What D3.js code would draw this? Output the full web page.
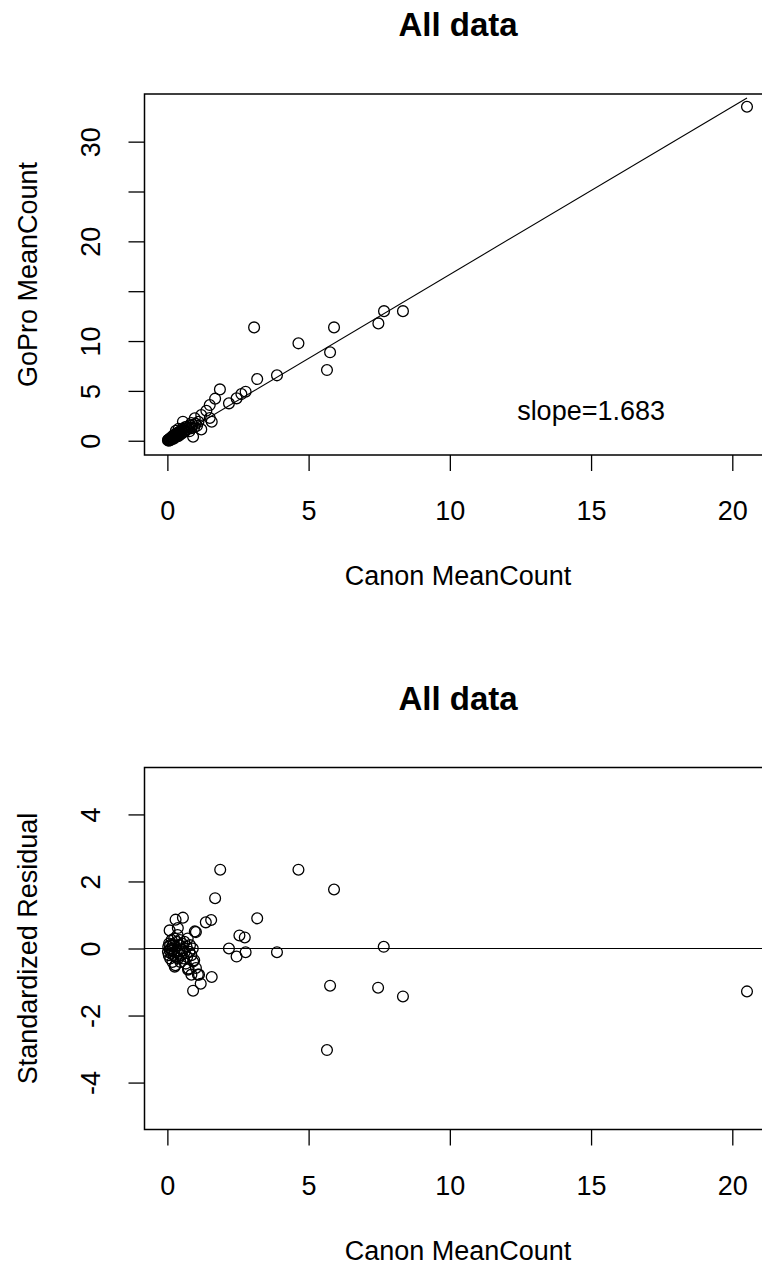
<!DOCTYPE html>
<html>
<head>
<meta charset="utf-8">
<script src="https://cdn.jsdelivr.net/npm/d3@7/dist/d3.min.js"></script>
<style>
  html, body { margin: 0; padding: 0; background: #fff; }
  svg { display: block; }
  text { font-family: "Liberation Sans", Arial, sans-serif; fill: #000; }
</style>
</head>
<body>
<svg id="chart" width="762" height="1266"></svg>
<script>
// ---------- data ----------
const chartTitle = "All data";
const xLabel = "Canon MeanCount";
const yLabelTop = "GoPro MeanCount";
const yLabelBottom = "Standardized Residual";
const xTicks = [0, 5, 10, 15, 20];
const yTicksTop = [0, 5, 10, 15, 20, 25, 30];
const yTickLabelsTop = ["0", "5", "10", "", "20", "", "30"];
const yTicksBottom = [-4, -2, 0, 2, 4];
const slope = 1.683;
const intercept = -0.15;
const slopeLabel = "slope=1.683";

// [Canon MeanCount, GoPro MeanCount]
const scatterPairs = [
  [20.52, 33.5], [8.34, 13.0], [7.67, 13.0], [7.47, 11.77], [5.90, 11.37],
  [5.76, 8.87], [5.65, 7.09], [4.64, 9.77], [3.07, 11.37], [3.88, 6.56],
  [3.18, 6.19], [2.77, 4.92], [2.62, 4.68], [2.45, 4.25], [2.18, 3.75],
  [1.86, 5.15], [1.69, 4.22], [1.57, 1.91], [1.38, 3.01], [1.50, 3.58],
  [1.20, 2.58], [1.50, 2.28], [0.97, 2.25], [1.20, 1.14], [0.91, 0.40],
  [0.55, 1.91], [0.85, 1.78], [1.10, 1.90], [1.05, 1.50], [1.00, 1.70],
  [0.02, 0.05], [0.03, 0.10], [0.05, 0.00], [0.06, 0.15], [0.08, 0.10],
  [0.10, 0.20], [0.10, 0.05], [0.12, 0.30], [0.14, 0.15], [0.15, 0.35],
  [0.17, 0.25], [0.18, 0.40], [0.20, 0.30], [0.20, 0.50], [0.22, 0.20],
  [0.24, 0.45], [0.25, 0.60], [0.27, 0.35], [0.28, 0.55], [0.30, 0.70],
  [0.30, 0.40], [0.32, 0.50], [0.35, 0.65], [0.36, 0.80], [0.38, 0.45],
  [0.40, 0.70], [0.42, 0.90], [0.44, 0.60], [0.46, 0.85], [0.48, 1.00],
  [0.50, 0.70], [0.52, 1.10], [0.55, 0.85], [0.58, 1.20], [0.60, 0.90],
  [0.62, 1.35], [0.65, 1.00], [0.68, 1.40], [0.70, 1.15], [0.75, 1.30],
  [0.78, 0.95], [0.80, 1.55], [0.85, 1.25], [0.90, 1.60], [0.95, 1.35],
  [0.40, 1.20], [0.30, 1.00]
];

// [Canon MeanCount, Standardized Residual]
const residualPairs = [
  [20.52, -1.28], [8.34, -1.43], [7.66, 0.05], [7.46, -1.17], [5.90, 1.76],
  [5.76, -1.11], [5.65, -3.03], [4.64, 2.35], [3.88, -0.11], [3.18, 0.90],
  [2.77, -0.11], [2.74, 0.33], [2.55, 0.39], [2.45, -0.24], [2.18, 0.00],
  [1.87, 2.35], [1.69, 1.50], [1.55, 0.85], [1.36, 0.78], [1.57, -0.85],
  [1.18, -1.05], [1.12, -0.78], [0.91, -1.26], [0.85, -0.78], [0.91, -0.39],
  [1.01, 0.49], [0.29, 0.86], [0.55, 0.92], [0.08, 0.54], [0.97, 0.51],
  [1.01, -0.58], [0.73, -0.63], [1.08, -0.78], [0.37, 0.61],
  [0.02, -0.10], [0.03, 0.05], [0.05, -0.20], [0.06, 0.15], [0.08, -0.05],
  [0.10, 0.10], [0.10, -0.30], [0.12, 0.00], [0.14, -0.15], [0.15, 0.25],
  [0.17, -0.05], [0.18, -0.40], [0.20, 0.10], [0.22, -0.20], [0.24, 0.30],
  [0.25, -0.10], [0.27, 0.05], [0.28, -0.50], [0.30, -0.25], [0.32, 0.20],
  [0.34, -0.05], [0.36, 0.40], [0.38, -0.30], [0.40, 0.10], [0.42, -0.15],
  [0.44, 0.25], [0.46, -0.40], [0.48, 0.00], [0.50, -0.20], [0.52, 0.15],
  [0.55, -0.05], [0.58, -0.30], [0.60, 0.20], [0.62, -0.10], [0.65, -0.45],
  [0.68, 0.05], [0.70, -0.25], [0.72, 0.30], [0.75, -0.60], [0.78, -0.10],
  [0.80, 0.10], [0.85, -0.20], [0.90, 0.00], [0.95, -0.35], [0.26, -0.54]
];

// ---------- layout ----------
const svg = d3.select("#chart");
svg.append("rect").attr("width", 762).attr("height", 1266).attr("fill", "#fff");

const FONT = 27;
const box = { left: 144.5, right: 771 };
const xDomain = [-0.81, 21.37];
const tickLen = 16;

function panel(opts) {
  const { top, bottom, yDomain, yTicks, yTickLabels, yLabel, id } = opts;
  const g = svg.append("g");
  const x = d3.scaleLinear().domain(xDomain).range([box.left, box.right]);
  const y = d3.scaleLinear().domain(yDomain).range([bottom, top]);

  g.append("clipPath").attr("id", id)
    .append("rect").attr("x", box.left).attr("y", top)
    .attr("width", box.right - box.left).attr("height", bottom - top);

  // x axis
  const xa = g.append("g").attr("transform", `translate(0,${bottom})`)
    .call(d3.axisBottom(x).tickValues(xTicks).tickSize(tickLen).tickFormat(d3.format("d")));
  xa.select(".domain").remove();
  xa.selectAll(".tick line").attr("stroke", "#000").attr("stroke-width", 1.3);
  xa.selectAll(".tick text").attr("y", 65).attr("dy", 0)
    .style("font-size", FONT + "px").attr("fill", "#000")
    .style("font-family", '"Liberation Sans", Arial, sans-serif');

  // y axis
  const ya = g.append("g").attr("transform", `translate(${box.left},0)`)
    .call(d3.axisLeft(y).tickValues(yTicks).tickSize(tickLen)
      .tickFormat((d, i) => yTickLabels ? yTickLabels[i] : String(d)));
  ya.select(".domain").remove();
  ya.selectAll(".tick line").attr("stroke", "#000").attr("stroke-width", 1.3);
  ya.selectAll(".tick text")
    .attr("transform", "rotate(-90)")
    .attr("x", 0).attr("y", -44.5).attr("dy", 0)
    .attr("text-anchor", "middle")
    .style("font-size", FONT + "px").attr("fill", "#000")
    .style("font-family", '"Liberation Sans", Arial, sans-serif');

  // title
  g.append("text").attr("x", 458).attr("y", top - 58)
    .attr("text-anchor", "middle").style("font-size", "33px")
    .style("font-weight", "bold").text(chartTitle);

  // axis labels
  g.append("text").attr("x", 458).attr("y", bottom + 130)
    .attr("text-anchor", "middle").style("font-size", FONT + "px").text(xLabel);
  g.append("text")
    .attr("transform", `translate(36.5,${(top + bottom) / 2}) rotate(-90)`)
    .attr("text-anchor", "middle").style("font-size", FONT + "px").text(yLabel);

  const plot = g.append("g").attr("clip-path", `url(#${id})`);
  return { g, plot, x, y, top, bottom };
}

// ---------- top panel ----------
const p1 = panel({ top: 94, bottom: 455, yDomain: [-1.43, 34.78],
  yTicks: yTicksTop, yTickLabels: yTickLabelsTop, yLabel: yLabelTop, id: "clipTop" });

// fitted line spans the range of the data
const xExtent = d3.extent(scatterPairs, d => d[0]);
p1.plot.append("line")
  .attr("x1", p1.x(xExtent[0])).attr("y1", p1.y(intercept + slope * xExtent[0]))
  .attr("x2", p1.x(xExtent[1])).attr("y2", p1.y(intercept + slope * xExtent[1]))
  .attr("stroke", "#000").attr("stroke-width", 1.1);

p1.plot.selectAll("circle").data(scatterPairs).enter().append("circle")
  .attr("cx", d => p1.x(d[0])).attr("cy", d => p1.y(d[1])).attr("r", 5.4)
  .attr("fill", "none").attr("stroke", "#000").attr("stroke-width", 1.3);

p1.g.append("text").attr("x", p1.x(15)).attr("y", p1.y(3))
  .attr("text-anchor", "middle").attr("dominant-baseline", "central")
  .style("font-size", FONT + "px").text(slopeLabel);

p1.g.append("rect").attr("x", box.left).attr("y", p1.top)
  .attr("width", box.right - box.left).attr("height", p1.bottom - p1.top)
  .attr("fill", "none").attr("stroke", "#000").attr("stroke-width", 1.5);

// ---------- bottom panel ----------
const p2 = panel({ top: 767.5, bottom: 1129.5, yDomain: [-5.4, 5.4],
  yTicks: yTicksBottom, yTickLabels: null, yLabel: yLabelBottom, id: "clipBottom" });

p2.plot.append("line")
  .attr("x1", box.left).attr("y1", p2.y(0))
  .attr("x2", box.right).attr("y2", p2.y(0))
  .attr("stroke", "#000").attr("stroke-width", 1.1);

p2.plot.selectAll("circle").data(residualPairs).enter().append("circle")
  .attr("cx", d => p2.x(d[0])).attr("cy", d => p2.y(d[1])).attr("r", 5.4)
  .attr("fill", "none").attr("stroke", "#000").attr("stroke-width", 1.3);

p2.g.append("rect").attr("x", box.left).attr("y", p2.top)
  .attr("width", box.right - box.left).attr("height", p2.bottom - p2.top)
  .attr("fill", "none").attr("stroke", "#000").attr("stroke-width", 1.5);
</script>
</body>
</html>
